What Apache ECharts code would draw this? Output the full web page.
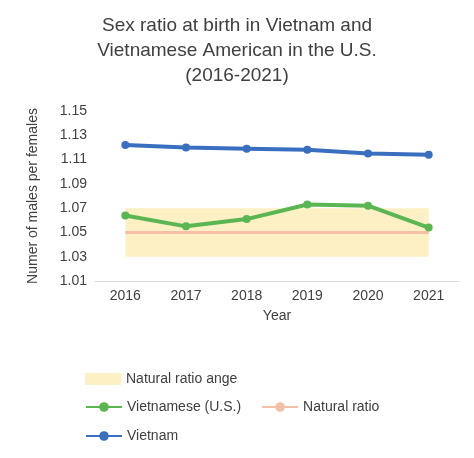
<!DOCTYPE html><html><head><meta charset="utf-8"><script src="https://cdn.jsdelivr.net/npm/echarts@6/dist/echarts.min.js"></script></head><body style="margin:0"><div id="c" style="width:474px;height:458px"></div><script>
const years=['2016','2017','2018','2019','2020','2021'];
const vietnam=[1.122,1.120,1.119,1.118,1.115,1.114];
const vnUS=[1.064,1.055,1.061,1.073,1.072,1.054];
const natural=[1.05,1.05,1.05,1.05,1.05,1.05];
const bandLow=1.03, bandHigh=1.07;
const ch=echarts.init(document.getElementById('c'));
const tx={color:'#404040',fontFamily:'Liberation Sans, Arial',fontSize:14};
ch.setOption({
 title:{text:'Sex ratio at birth in Vietnam and\nVietnamese American in the U.S.\n(2016-2021)',left:'center',top:8,textStyle:{color:'#404040',fontFamily:'Liberation Sans, Arial',fontSize:19,fontWeight:'normal',lineHeight:25}},
 grid:{left:95,right:15,top:111,bottom:177},
 xAxis:{type:'category',data:years,name:'Year',nameLocation:'middle',nameGap:28,nameTextStyle:tx,axisLabel:tx,axisTick:{show:false},axisLine:{lineStyle:{color:'#d9d9d9'}}},
 yAxis:{type:'value',min:1.01,max:1.15,interval:0.02,name:'Numer of males per females',nameLocation:'middle',nameGap:55,nameTextStyle:tx,axisLabel:Object.assign({formatter:v=>v.toFixed(2)},tx),splitLine:{show:false}},
 legend:[
  {left:80,top:367,itemWidth:36,itemHeight:12,icon:'rect',data:['Natural ratio ange'],textStyle:tx},
  {left:80,top:395,itemWidth:36,itemHeight:12,data:['Vietnamese (U.S.)','Natural ratio'],textStyle:tx,itemGap:20},
  {left:80,top:424,itemWidth:36,itemHeight:12,data:['Vietnam'],textStyle:tx}],
 series:[
  {name:'Natural ratio ange',type:'line',data:[],color:'#fdf0c4',markArea:{silent:true,itemStyle:{color:'#fdf0c4'},data:[[{xAxis:'2016',yAxis:bandLow},{xAxis:'2021',yAxis:bandHigh}]]}},
  {name:'Natural ratio',type:'line',data:natural,color:'#f4c0a8',symbol:'none',lineStyle:{width:3}},
  {name:'Vietnamese (U.S.)',type:'line',data:vnUS,color:'#5ab552',symbol:'circle',symbolSize:8,lineStyle:{width:4}},
  {name:'Vietnam',type:'line',data:vietnam,color:'#3a6fc0',symbol:'circle',symbolSize:8,lineStyle:{width:4}}
 ]});
</script></body></html>
